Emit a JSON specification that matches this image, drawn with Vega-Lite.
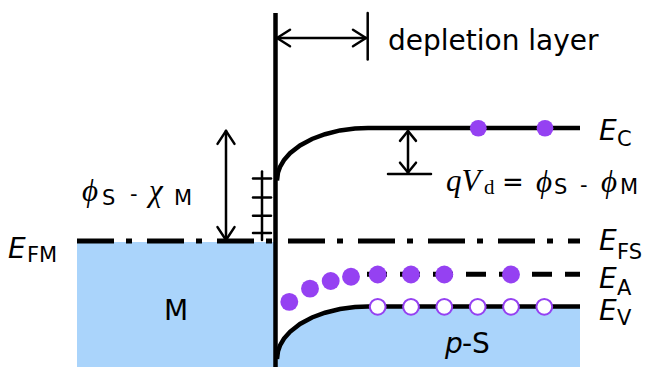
{
  "$schema": "https://vega.github.io/schema/vega-lite/v6.json",
  "width": 649,
  "height": 370,
  "autosize": {"type": "fit", "contains": "padding"},
  "padding": 0,
  "background": "white",
  "config": {"view": {"stroke": null}},
  "datasets": {
    "metal": [{"x": 77, "x2": 275, "y": 244, "y2": 370}],
    "bands": [
      {"band": "EC", "x": 277, "y": 182}, {"band": "EC", "x": 278, "y": 174}, {"band": "EC", "x": 280, "y": 168.3},
      {"band": "EC", "x": 284, "y": 161.4}, {"band": "EC", "x": 290, "y": 154.5}, {"band": "EC", "x": 300, "y": 146.6},
      {"band": "EC", "x": 312, "y": 140.1}, {"band": "EC", "x": 325, "y": 135.3}, {"band": "EC", "x": 340, "y": 131.5},
      {"band": "EC", "x": 355, "y": 129.5}, {"band": "EC", "x": 368, "y": 129}, {"band": "EC", "x": 580, "y": 129},
      {"band": "EV", "x": 277, "y": 362}, {"band": "EV", "x": 278, "y": 354}, {"band": "EV", "x": 280, "y": 348.3},
      {"band": "EV", "x": 284, "y": 341.4}, {"band": "EV", "x": 290, "y": 334.5}, {"band": "EV", "x": 300, "y": 326.6},
      {"band": "EV", "x": 312, "y": 320.1}, {"band": "EV", "x": 325, "y": 315.3}, {"band": "EV", "x": 340, "y": 311.5},
      {"band": "EV", "x": 355, "y": 309.5}, {"band": "EV", "x": 368, "y": 309}, {"band": "EV", "x": 580, "y": 309}
    ],
    "fermi": [{"x": 77, "x2": 275, "y": 243}, {"x": 288, "x2": 580, "y": 243}],
    "acceptor": [{"x": 367, "x2": 580, "y": 276.5}],
    "interface": [{"x": 275.5, "x2": 275.5, "y": 13, "y2": 370}],
    "segments": [
      {"x": 277, "y": 38.3, "x2": 366, "y2": 38.3},
      {"x": 277, "y": 38.3, "x2": 290, "y2": 30},
      {"x": 277, "y": 38.3, "x2": 290, "y2": 46.6},
      {"x": 366, "y": 38.3, "x2": 353, "y2": 30},
      {"x": 366, "y": 38.3, "x2": 353, "y2": 46.6},
      {"x": 367.7, "y": 13, "x2": 367.7, "y2": 60},
      {"x": 226, "y": 132, "x2": 226, "y2": 242},
      {"x": 226, "y": 132, "x2": 217.5, "y2": 145},
      {"x": 226, "y": 132, "x2": 234.5, "y2": 145},
      {"x": 226, "y": 242, "x2": 217.5, "y2": 229},
      {"x": 226, "y": 242, "x2": 234.5, "y2": 229},
      {"x": 408, "y": 132, "x2": 408, "y2": 174},
      {"x": 408, "y": 132, "x2": 400, "y2": 142},
      {"x": 408, "y": 132, "x2": 416, "y2": 142},
      {"x": 408, "y": 174, "x2": 400, "y2": 164},
      {"x": 408, "y": 174, "x2": 416, "y2": 164},
      {"x": 388, "y": 175.5, "x2": 431, "y2": 175.5},
      {"x": 262, "y": 173, "x2": 262, "y2": 242},
      {"x": 253, "y": 180, "x2": 271, "y2": 180},
      {"x": 253, "y": 199, "x2": 271, "y2": 199},
      {"x": 253, "y": 217.5, "x2": 271, "y2": 217.5},
      {"x": 253, "y": 235, "x2": 271, "y2": 235}
    ],
    "electrons": [{"x": 478.3, "y": 129.3}, {"x": 545, "y": 129.3}],
    "acceptorsIonized": [
      {"x": 289.3, "y": 304.3}, {"x": 310, "y": 291}, {"x": 330.7, "y": 283.3}, {"x": 351, "y": 279},
      {"x": 377.7, "y": 276.7}, {"x": 411, "y": 276.7}, {"x": 444.3, "y": 276.7}, {"x": 511, "y": 276.7}
    ],
    "holes": [
      {"x": 377.7, "y": 309.3}, {"x": 411, "y": 309.3}, {"x": 444.3, "y": 309.3},
      {"x": 477.7, "y": 309.3}, {"x": 511, "y": 309.3}, {"x": 544.3, "y": 309.3}
    ],
    "sansBig": [{"x": 388, "y": 50, "t": "depletion layer"}, {"x": 164, "y": 323, "t": "M"}],
    "sansMid": [{"x": 462, "y": 356, "t": "-S"}],
    "sansEq": [{"x": 502, "y": 193, "t": "="}],
    "italicE": [
      {"x": 599, "y": 141, "t": "E"}, {"x": 599, "y": 252, "t": "E"}, {"x": 599, "y": 290, "t": "E"},
      {"x": 599, "y": 323, "t": "E"}, {"x": 8, "y": 260, "t": "E"}
    ],
    "italicP": [{"x": 445, "y": 356, "t": "p"}],
    "subs": [
      {"x": 617, "y": 147, "t": "C"}, {"x": 617, "y": 261, "t": "FS"}, {"x": 617, "y": 297, "t": "A"},
      {"x": 617, "y": 328, "t": "V"}, {"x": 27, "y": 264, "t": "FM"}
    ],
    "smallSubs": [
      {"x": 102, "y": 207, "t": "S"}, {"x": 130, "y": 203, "t": "-"}, {"x": 174, "y": 207, "t": "M"},
      {"x": 554, "y": 196, "t": "S"}, {"x": 580, "y": 194, "t": "-"}, {"x": 620, "y": 196, "t": "M"}
    ],
    "serifItalic": [
      {"x": 82, "y": 203, "t": "ϕ"}, {"x": 149, "y": 203, "t": "χ"},
      {"x": 446, "y": 193, "t": "qV"}, {"x": 536, "y": 194, "t": "ϕ"}, {"x": 601, "y": 194, "t": "ϕ"}
    ],
    "serifSub": [{"x": 484, "y": 196, "t": "d"}]
  },
  "encoding": {
    "x": {"field": "x", "type": "quantitative", "scale": {"domain": [0, 649], "nice": false, "zero": false}, "axis": null},
    "y": {"field": "y", "type": "quantitative", "scale": {"domain": [0, 370], "nice": false, "zero": false, "reverse": true}, "axis": null}
  },
  "layer": [
    {"data": {"name": "metal"}, "mark": {"type": "rect", "color": "#aad4fb"},
     "encoding": {"x2": {"field": "x2"}, "y2": {"field": "y2"}}},
    {"data": {"name": "bands"}, "transform": [{"filter": "datum.band == 'EV'"}],
     "mark": {"type": "area", "color": "#aad4fb"},
     "encoding": {"y2": {"datum": 370}}},
    {"data": {"name": "bands"}, "mark": {"type": "line", "color": "black", "strokeWidth": 4.5},
     "encoding": {"detail": {"field": "band"}}},
    {"data": {"name": "fermi"}, "mark": {"type": "rule", "color": "black", "strokeWidth": 5, "strokeDash": [37, 12, 6, 15]},
     "encoding": {"x2": {"field": "x2"}}},
    {"data": {"name": "acceptor"}, "mark": {"type": "rule", "color": "black", "strokeWidth": 5, "strokeDash": [20, 13]},
     "encoding": {"x2": {"field": "x2"}}},
    {"data": {"name": "interface"}, "mark": {"type": "rule", "color": "black", "strokeWidth": 4.5},
     "encoding": {"x2": {"field": "x2"}, "y2": {"field": "y2"}}},
    {"data": {"name": "segments"}, "mark": {"type": "rule", "color": "black", "strokeWidth": 2.5, "strokeCap": "round"},
     "encoding": {"x2": {"field": "x2"}, "y2": {"field": "y2"}}},
    {"data": {"name": "electrons"}, "mark": {"type": "point", "filled": true, "color": "#9541f2", "opacity": 1, "size": 280}},
    {"data": {"name": "acceptorsIonized"}, "mark": {"type": "point", "filled": true, "color": "#9541f2", "opacity": 1, "size": 320}},
    {"data": {"name": "holes"}, "mark": {"type": "point", "filled": true, "fill": "white", "stroke": "#9541f2", "strokeWidth": 2, "opacity": 1, "size": 250}},
    {"data": {"name": "sansBig"}, "mark": {"type": "text", "font": "DejaVu Sans", "fontSize": 28, "align": "left", "baseline": "alphabetic", "color": "black"},
     "encoding": {"text": {"field": "t"}}},
    {"data": {"name": "sansMid"}, "mark": {"type": "text", "font": "DejaVu Sans", "fontSize": 28, "align": "left", "baseline": "alphabetic", "color": "black"},
     "encoding": {"text": {"field": "t"}}},
    {"data": {"name": "sansEq"}, "mark": {"type": "text", "font": "DejaVu Sans", "fontSize": 26, "align": "left", "baseline": "alphabetic", "color": "black"},
     "encoding": {"text": {"field": "t"}}},
    {"data": {"name": "italicE"}, "mark": {"type": "text", "font": "DejaVu Sans", "fontStyle": "italic", "fontSize": 28, "align": "left", "baseline": "alphabetic", "color": "black"},
     "encoding": {"text": {"field": "t"}}},
    {"data": {"name": "italicP"}, "mark": {"type": "text", "font": "DejaVu Sans", "fontStyle": "italic", "fontSize": 28, "align": "left", "baseline": "alphabetic", "color": "black"},
     "encoding": {"text": {"field": "t"}}},
    {"data": {"name": "subs"}, "mark": {"type": "text", "font": "DejaVu Sans", "fontSize": 21, "align": "left", "baseline": "alphabetic", "color": "black"},
     "encoding": {"text": {"field": "t"}}},
    {"data": {"name": "smallSubs"}, "mark": {"type": "text", "font": "DejaVu Sans", "fontSize": 21, "align": "left", "baseline": "alphabetic", "color": "black"},
     "encoding": {"text": {"field": "t"}}},
    {"data": {"name": "serifItalic"}, "mark": {"type": "text", "font": "Liberation Serif", "fontStyle": "italic", "fontSize": 31, "align": "left", "baseline": "alphabetic", "color": "black"},
     "encoding": {"text": {"field": "t"}}},
    {"data": {"name": "serifSub"}, "mark": {"type": "text", "font": "Liberation Serif", "fontSize": 21, "align": "left", "baseline": "alphabetic", "color": "black"},
     "encoding": {"text": {"field": "t"}}}
  ]
}
